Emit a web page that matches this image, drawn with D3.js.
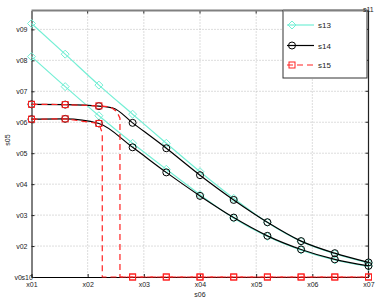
<!DOCTYPE html>
<html>
<head>
<meta charset="utf-8">
<script src="https://cdn.jsdelivr.net/npm/d3@7"></script>
<style>
  body { margin: 0; background: #fff; }
  svg { font-family: "Liberation Sans", Arial, sans-serif; }
</style>
</head>
<body>
<svg id="chart" width="382" height="302"></svg>
<script>
// tick labels
var xTickLabels = ["x01", "x02", "x03", "x04", "x05", "x06", "x07"];
var yTickLabels = ["v0", "v02", "v03", "v04", "v05", "v06", "v07", "v08", "v09"];

// marker positions along x
var markerX = [0, 0.6, 1.2, 1.8, 2.4, 3.0, 3.6, 4.2, 4.8, 5.4, 6.0];

// s13 (two cyan lines)
var s13aX = markerX;
var s13aY = [8.19, 7.20, 6.20, 5.26, 4.32, 3.40, 2.54, 1.76, 1.15, 0.75, 0.45];
var s13bX = markerX;
var s13bY = [7.12, 6.15, 5.21, 4.32, 3.48, 2.66, 1.90, 1.31, 0.87, 0.55, 0.34];

// s14 (two black lines)
var s14aX = [0, 0.6, 1.2, 1.45, 1.8, 2.4, 3.0, 3.6, 4.2, 4.8, 5.4, 6.0];
var s14aY = [5.58, 5.57, 5.52, 5.46, 4.98, 4.16, 3.29, 2.49, 1.77, 1.16, 0.77, 0.47];
var s14bX = markerX;
var s14bY = [5.10, 5.11, 4.96, 4.19, 3.38, 2.62, 1.92, 1.33, 0.89, 0.57, 0.36];

// s15 (two red dashed lines, dropping to zero)
var s15aX = [0, 0.6, 1.2, 1.4, 1.52, 1.575, 1.575, 1.8, 2.4, 3.0, 3.6, 4.2, 4.8, 5.4, 6.0];
var s15aY = [5.58, 5.57, 5.53, 5.50, 5.34, 5.13, 0, 0, 0, 0, 0, 0, 0, 0, 0];
var s15bX = [0, 0.6, 1.2, 1.26, 1.26, 1.8, 2.4, 3.0, 3.6, 4.2, 4.8, 5.4, 6.0];
var s15bY = [5.10, 5.11, 4.96, 4.65, 0, 0, 0, 0, 0, 0, 0, 0, 0];

var seriesNames = ["s13", "s14", "s15"];

var plotLeft = 31.5, plotRight = 368.5, plotTop = 10.5, plotBottom = 277;

var svg = d3.select("#chart");

var x = d3.scaleLinear().domain([0, 6]).range([plotLeft, plotRight]);
var y = d3.scaleLinear().domain([0, 8.61]).range([plotBottom, plotTop]);

function zip(xs, ys) {
  return xs.map(function(v, i) { return { x: v, y: ys[i] }; });
}

var series = [
  { name: "s13", color: "#74efd5", dash: null, marker: "diamond", curve: d3.curveMonotoneX,
    lines: [zip(s13aX, s13aY), zip(s13bX, s13bY)] },
  { name: "s14", color: "#000000", dash: null, marker: "circle", curve: d3.curveMonotoneX,
    lines: [zip(s14aX, s14aY), zip(s14bX, s14bY)] },
  { name: "s15", color: "#f22", dash: "6,4", marker: "square", curve: d3.curveLinear,
    lines: [zip(s15aX, s15aY), zip(s15bX, s15bY)] }
];

// grid
var grid = svg.append("g").attr("stroke", "#aaa").attr("stroke-width", 0.8).attr("stroke-dasharray", "1,2");
grid.selectAll("line.gx").data(d3.range(1, 6)).enter().append("line")
  .attr("x1", function(d) { return x(d); }).attr("x2", function(d) { return x(d); })
  .attr("y1", plotTop).attr("y2", plotBottom);
grid.selectAll("line.gy").data(d3.range(1, 9)).enter().append("line")
  .attr("x1", plotLeft).attr("x2", plotRight)
  .attr("y1", function(d) { return y(d); }).attr("y2", function(d) { return y(d); });

// axes
var xAxis = d3.axisBottom(x).tickValues(d3.range(0, 7)).tickFormat(function(d, i) { return xTickLabels[i]; })
  .tickSizeInner(-3).tickSizeOuter(0).tickPadding(5);
var yAxis = d3.axisLeft(y).tickValues(d3.range(0, 9)).tickFormat(function(d, i) { return yTickLabels[i]; })
  .tickSizeInner(-3).tickSizeOuter(0).tickPadding(4);

var gx = svg.append("g").attr("transform", "translate(0," + plotBottom + ")").call(xAxis);
var gy = svg.append("g").attr("transform", "translate(" + plotLeft + ",0)").call(yAxis);
[gx, gy].forEach(function(g) {
  g.selectAll("text").attr("font-size", 7).attr("fill", "#222").attr("font-family", "Liberation Sans, Arial, sans-serif");
  g.selectAll("line").attr("stroke", "#222");
  g.select(".domain").attr("stroke", "#000");
});
// bottom y label sits left of the exponent text
gy.selectAll(".tick").filter(function(d) { return d === 0; }).select("text").attr("dx", -5.5);

// top and right ticks
svg.append("g").selectAll("line").data(d3.range(1, 6)).enter().append("line")
  .attr("x1", function(d) { return x(d); }).attr("x2", function(d) { return x(d); })
  .attr("y1", plotTop).attr("y2", plotTop + 3).attr("stroke", "#222");
svg.append("g").selectAll("line").data(d3.range(1, 9)).enter().append("line")
  .attr("x1", plotRight).attr("x2", plotRight - 3)
  .attr("y1", function(d) { return y(d); }).attr("y2", function(d) { return y(d); }).attr("stroke", "#222");

// box
svg.append("line").attr("x1", plotLeft).attr("x2", plotRight).attr("y1", plotTop).attr("y2", plotTop)
  .attr("stroke", "#808080").attr("stroke-width", 2);
svg.append("line").attr("x1", plotRight).attr("x2", plotRight).attr("y1", plotTop).attr("y2", plotBottom)
  .attr("stroke", "#222").attr("stroke-width", 1.2);

function drawMarker(g, type, cx, cy, color) {
  if (type === "circle") {
    g.append("circle").attr("cx", cx).attr("cy", cy).attr("r", 3.5)
      .attr("fill", "none").attr("stroke", color).attr("stroke-width", 1);
  } else if (type === "diamond") {
    g.append("path").attr("d", "M" + cx + "," + (cy - 4) + "L" + (cx + 4) + "," + cy + "L" + cx + "," + (cy + 4) + "L" + (cx - 4) + "," + cy + "Z")
      .attr("fill", "none").attr("stroke", color).attr("stroke-width", 1);
  } else {
    g.append("rect").attr("x", cx - 3).attr("y", cy - 3).attr("width", 6).attr("height", 6)
      .attr("fill", "none").attr("stroke", color).attr("stroke-width", 1);
  }
}

// lines and markers
series.forEach(function(s) {
  var g = svg.append("g");
  var line = d3.line().x(function(d) { return x(d.x); }).y(function(d) { return y(d.y); }).curve(s.curve);
  s.lines.forEach(function(pts) {
    g.append("path").attr("d", line(pts)).attr("fill", "none")
      .attr("stroke", s.color).attr("stroke-width", 1.2)
      .attr("stroke-dasharray", s.dash);
    pts.filter(function(p) { return markerX.indexOf(p.x) >= 0; }).forEach(function(p) {
      drawMarker(g, s.marker, x(p.x), y(p.y), s.color);
    });
  });
});

// legend
var lg = svg.append("g");
lg.append("rect").attr("x", 283).attr("y", plotTop).attr("width", 84).attr("height", 67.5)
  .attr("fill", "#fff").attr("stroke", "#333").attr("stroke-width", 1);
lg.append("line").attr("x1", 283).attr("x2", 367).attr("y1", plotTop).attr("y2", plotTop)
  .attr("stroke", "#808080").attr("stroke-width", 2);
var legendY = [25, 45.5, 65];
series.forEach(function(s, i) {
  lg.append("line").attr("x1", 287).attr("x2", 314).attr("y1", legendY[i]).attr("y2", legendY[i])
    .attr("stroke", s.color).attr("stroke-width", 1.2).attr("stroke-dasharray", s.dash);
  drawMarker(lg, s.marker, 292, legendY[i], s.color);
  lg.append("text").attr("x", 318).attr("y", legendY[i] + 3).attr("font-size", 8).attr("fill", "#222")
    .text(seriesNames[i]);
});

// axis titles and exponent labels
svg.append("text").attr("x", 200).attr("y", 297).attr("text-anchor", "middle").attr("font-size", 7).attr("fill", "#222").text("s06");
svg.append("text").attr("transform", "translate(10,140) rotate(-90)").attr("text-anchor", "middle").attr("font-size", 7).attr("fill", "#222").text("s05");
svg.append("text").attr("x", 363).attr("y", 12).attr("font-size", 7).attr("fill", "#222").text("s11");
svg.append("text").attr("x", 21.5).attr("y", 280).attr("font-size", 7).attr("fill", "#222").text("s10");
</script>
</body>
</html>
